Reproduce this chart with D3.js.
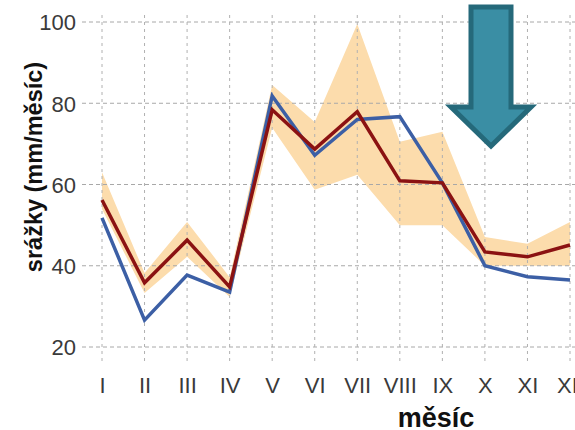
<!DOCTYPE html>
<html>
<head>
<meta charset="utf-8">
<script src="https://cdn.jsdelivr.net/npm/d3@7"></script>
<style>
  html, body { margin: 0; padding: 0; background: #fff; }
  svg { display: block; }
</style>
</head>
<body>
<svg id="chart" width="575" height="430"></svg>
<script>
// Monthly precipitation (mm/month): observed vs. model mean with model range
const months = ["I", "II", "III", "IV", "V", "VI", "VII", "VIII", "IX", "X", "XI", "XII"];
const observed = [51.8, 26.6, 37.7, 33.5, 81.8, 67.2, 76.0, 76.7, 60.4, 40.0, 37.3, 36.5];
const modelMean = [56.2, 35.8, 46.3, 34.8, 78.4, 68.7, 77.9, 60.9, 60.4, 43.4, 42.2, 45.1];
const rangeHigh = [63.0, 38.2, 50.8, 37.2, 84.5, 75.4, 99.5, 70.5, 73.0, 47.1, 45.4, 50.8];
const rangeLow  = [54.0, 33.3, 42.2, 32.3, 74.0, 58.7, 62.4, 50.0, 50.0, 40.0, 40.0, 40.0];
const yTicks = [20, 40, 60, 80, 100];

const svg = d3.select("#chart");

const x = d3.scalePoint().domain(months).range([102, 570]);
const y = d3.scaleLinear().domain([20, 100]).range([347, 22]);

// model range band
const band = d3.area()
  .x((d, i) => x(months[i]))
  .y0((d, i) => y(rangeLow[i]))
  .y1((d, i) => y(rangeHigh[i]));
svg.append("path")
  .datum(months)
  .attr("d", band)
  .attr("fill", "#fcdcac");

// dashed grid
svg.append("g")
  .selectAll("line")
  .data(yTicks)
  .join("line")
  .attr("x1", 82).attr("x2", 575)
  .attr("y1", d => y(d)).attr("y2", d => y(d))
  .attr("stroke", "#a8a8a8")
  .attr("stroke-width", 1)
  .attr("stroke-dasharray", "4,3");

svg.append("g")
  .selectAll("line")
  .data(months)
  .join("line")
  .attr("x1", d => x(d)).attr("x2", d => x(d))
  .attr("y1", 15).attr("y2", 362)
  .attr("stroke", "#b0b0b0")
  .attr("stroke-width", 1)
  .attr("stroke-dasharray", "3,4");

// y tick labels
const yAxis = d3.axisLeft(y).tickValues(yTicks).tickSize(0).tickPadding(0);
const gy = svg.append("g").attr("transform", "translate(76,0)").call(yAxis);
gy.select(".domain").remove();
gy.selectAll("text")
  .attr("font-family", "'Liberation Sans Narrow', 'Liberation Sans', sans-serif")
  .attr("font-size", 22)
  .attr("fill", "#3a3a3a")
  .attr("dy", "0.36em");

// x tick labels
const xAxis = d3.axisBottom(x).tickSize(0).tickPadding(0);
const gx = svg.append("g").attr("transform", "translate(0,377)").call(xAxis);
gx.select(".domain").remove();
gx.selectAll("text")
  .attr("font-family", "'Liberation Sans Narrow', 'Liberation Sans', sans-serif")
  .attr("font-size", 22)
  .attr("fill", "#3a3a3a")
  .attr("dy", "0.72em");

// series lines
const line = vals => d3.line()
  .x((d, i) => x(months[i]))
  .y((d, i) => y(vals[i]))(months);

svg.append("path")
  .attr("d", line(observed))
  .attr("fill", "none")
  .attr("stroke", "#3c5fa5")
  .attr("stroke-width", 3.5)
  .attr("stroke-linejoin", "miter");

svg.append("path")
  .attr("d", line(modelMean))
  .attr("fill", "none")
  .attr("stroke", "#8b1212")
  .attr("stroke-width", 3.5)
  .attr("stroke-linejoin", "miter");

// axis titles
svg.append("text")
  .attr("transform", "translate(42,167) rotate(-90)")
  .attr("text-anchor", "middle")
  .attr("font-family", "'Liberation Sans', Arial, sans-serif")
  .attr("font-weight", "bold")
  .attr("font-size", 23.5)
  .attr("fill", "#111")
  .text("srážky (mm/měsíc)");

svg.append("text")
  .attr("x", 436)
  .attr("y", 427)
  .attr("text-anchor", "middle")
  .attr("font-family", "'Liberation Sans', Arial, sans-serif")
  .attr("font-weight", "bold")
  .attr("font-size", 27)
  .attr("fill", "#111")
  .text("měsíc");

// downward arrow
const arrowPts = [[471, 7], [511, 7], [511, 107], [531, 107], [491, 146], [451, 107], [471, 107]];
svg.append("polygon")
  .attr("points", arrowPts.map(p => p.join(",")).join(" "))
  .attr("fill", "#3a8ea4")
  .attr("stroke", "#25697a")
  .attr("stroke-width", 5)
  .attr("stroke-linejoin", "miter");
</script>
</body>
</html>
